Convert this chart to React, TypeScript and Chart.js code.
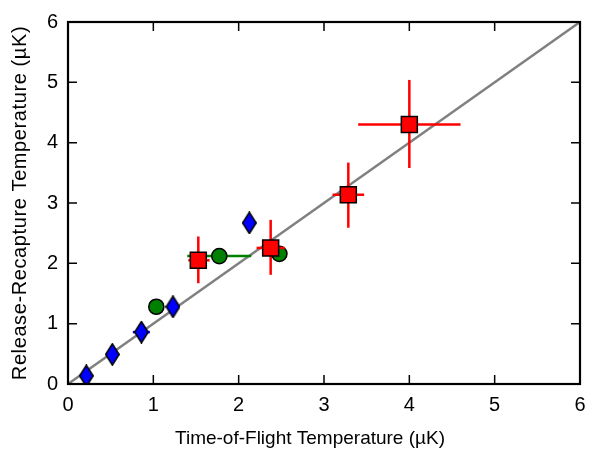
import React, { useEffect, useRef } from "react";
import { Chart, registerables } from "chart.js";

Chart.register(...registerables);

// Blue diamonds
const blueX = [0.215, 0.52, 0.86, 1.23, 2.125];
const blueY = [0.135, 0.49, 0.86, 1.28, 2.67];
const blueXErr = [0.05, 0.05, 0.1, 0.05, 0.08];

// Green circles
const greenX = [1.035, 1.773, 2.477];
const greenY = [1.28, 2.12, 2.157];
const greenXErr = [0.0, 0.375, 0.09];

// Red squares
const redX = [1.527, 2.375, 3.285, 4.0];
const redY = [2.05, 2.255, 3.135, 4.3];
const redXLow = [1.41, 2.21, 3.1, 3.4];
const redXHigh = [1.66, 2.54, 3.47, 4.6];
const redYLow = [1.67, 1.81, 2.59, 3.58];
const redYHigh = [2.445, 2.72, 3.67, 5.04];

// Reference line y = x
const lineX = [0, 6];
const lineY = [0, 6];

const tickValues = [0, 1, 2, 3, 4, 5, 6];

const xTitle = "Time-of-Flight Temperature (µK)";
const yTitle = "Release-Recapture Temperature (µK)";

const FONT = "'Liberation Sans', Arial, Helvetica, sans-serif";

function makeDiamond(): HTMLCanvasElement {
  const c = document.createElement("canvas");
  c.width = 15;
  c.height = 23;
  const ctx = c.getContext("2d")!;
  ctx.beginPath();
  ctx.moveTo(7.5, 0.8);
  ctx.lineTo(14.2, 11.5);
  ctx.lineTo(7.5, 22.2);
  ctx.lineTo(0.8, 11.5);
  ctx.closePath();
  ctx.fillStyle = "#0000ff";
  ctx.fill();
  ctx.lineWidth = 1.5;
  ctx.strokeStyle = "#000000";
  ctx.stroke();
  return c;
}

type ErrSpec = {
  color: string;
  x: number[];
  y: number[];
  xl?: number[];
  xh?: number[];
  yl?: number[];
  yh?: number[];
};

const errorSpecs: Record<string, ErrSpec> = {
  blue: {
    color: "#0000ff",
    x: blueX,
    y: blueY,
    xl: blueX.map((v, i) => v - blueXErr[i]),
    xh: blueX.map((v, i) => v + blueXErr[i]),
  },
  green: {
    color: "#008000",
    x: greenX,
    y: greenY,
    xl: greenX.map((v, i) => v - greenXErr[i]),
    xh: greenX.map((v, i) => v + greenXErr[i]),
  },
  red: {
    color: "#ff0000",
    x: redX,
    y: redY,
    xl: redXLow,
    xh: redXHigh,
    yl: redYLow,
    yh: redYHigh,
  },
};

const errorBarPlugin = {
  id: "errorBars",
  beforeDatasetDraw(chart: any, args: any) {
    const ds = chart.data.datasets[args.index];
    const spec = errorSpecs[ds.label];
    if (!spec) return;
    const xs = chart.scales.x;
    const ys = chart.scales.y;
    const ctx = chart.ctx;
    ctx.save();
    ctx.strokeStyle = spec.color;
    ctx.lineWidth = 2.5;
    spec.x.forEach((xv, i) => {
      const px = xs.getPixelForValue(xv);
      const py = ys.getPixelForValue(spec.y[i]);
      if (spec.xl && spec.xh) {
        ctx.beginPath();
        ctx.moveTo(xs.getPixelForValue(spec.xl[i]), py);
        ctx.lineTo(xs.getPixelForValue(spec.xh[i]), py);
        ctx.stroke();
      }
      if (spec.yl && spec.yh) {
        ctx.beginPath();
        ctx.moveTo(px, ys.getPixelForValue(spec.yl[i]));
        ctx.lineTo(px, ys.getPixelForValue(spec.yh[i]));
        ctx.stroke();
      }
    });
    ctx.restore();
  },
};

const framePlugin = {
  id: "frame",
  afterDraw(chart: any) {
    const { ctx, chartArea } = chart;
    const { left, right, top, bottom } = chartArea;
    const xs = chart.scales.x;
    const ys = chart.scales.y;
    const tl = 9;
    ctx.save();
    ctx.strokeStyle = "#000";
    ctx.lineWidth = 1.5;
    tickValues.forEach((v) => {
      const px = xs.getPixelForValue(v);
      ctx.beginPath();
      ctx.moveTo(px, bottom);
      ctx.lineTo(px, bottom - tl);
      ctx.moveTo(px, top);
      ctx.lineTo(px, top + tl);
      ctx.stroke();
      const py = ys.getPixelForValue(v);
      ctx.beginPath();
      ctx.moveTo(left, py);
      ctx.lineTo(left + tl, py);
      ctx.moveTo(right, py);
      ctx.lineTo(right - tl, py);
      ctx.stroke();
    });
    ctx.lineWidth = 2.2;
    ctx.strokeRect(left, top, right - left, bottom - top);

    // Axis titles
    ctx.fillStyle = "#000";
    ctx.textAlign = "center";
    ctx.textBaseline = "alphabetic";
    ctx.font = `19px ${FONT}`;
    ctx.fillText(xTitle, 310, 444);

    ctx.save();
    ctx.translate(26, (top + bottom) / 2);
    ctx.rotate(-Math.PI / 2);
    ctx.font = `20px ${FONT}`;
    try {
      (ctx as any).letterSpacing = "0.6px";
    } catch (e) {}
    ctx.fillText(yTitle, 0, 0);
    ctx.restore();

    ctx.restore();
  },
};

export default function App() {
  const ref = useRef<HTMLCanvasElement>(null);

  useEffect(() => {
    if (!ref.current) return;
    const diamond = makeDiamond();
    const chart = new Chart(ref.current, {
      type: "scatter",
      data: {
        datasets: [
          {
            label: "red",
            data: redX.map((x, i) => ({ x, y: redY[i] })),
            pointStyle: "rect",
            pointRadius: 11.3,
            pointHoverRadius: 11.3,
            backgroundColor: "#ff0000",
            borderColor: "#000000",
            borderWidth: 1.5,
            order: 1,
          },
          {
            label: "green",
            data: greenX.map((x, i) => ({ x, y: greenY[i] })),
            pointStyle: "circle",
            pointRadius: 7.6,
            pointHoverRadius: 7.6,
            backgroundColor: "#008000",
            borderColor: "#000000",
            borderWidth: 1.5,
            order: 2,
          },
          {
            label: "blue",
            data: blueX.map((x, i) => ({ x, y: blueY[i] })),
            pointStyle: diamond as any,
            pointRadius: 10,
            backgroundColor: "#0000ff",
            order: 3,
          },
          {
            label: "line",
            data: lineX.map((x, i) => ({ x, y: lineY[i] })),
            showLine: true,
            pointRadius: 0,
            borderColor: "#808080",
            borderWidth: 2.5,
            order: 4,
          } as any,
        ],
      },
      plugins: [errorBarPlugin, framePlugin],
      options: {
        animation: false,
        responsive: false,
        maintainAspectRatio: false,
        layout: { padding: { top: 16, right: 15, left: 0, bottom: 0 } },
        plugins: {
          legend: { display: false },
          tooltip: { enabled: false },
        },
        scales: {
          x: {
            type: "linear",
            min: 0,
            max: 6,
            afterFit: (s: any) => {
              s.height = 65;
            },
            grid: { display: false, drawTicks: false },
            border: { display: false },
            ticks: {
              stepSize: 1,
              padding: 9,
              color: "#000",
              font: { family: FONT, size: 20 },
            },
          },
          y: {
            type: "linear",
            min: 0,
            max: 6,
            afterFit: (s: any) => {
              s.width = 68;
            },
            grid: { display: false, drawTicks: false },
            border: { display: false },
            ticks: {
              stepSize: 1,
              padding: 10,
              color: "#000",
              font: { family: FONT, size: 20 },
            },
          },
        },
      },
    });
    return () => chart.destroy();
  }, []);

  return (
    <div style={{ position: "fixed", left: 0, top: 0, width: 595, height: 449, background: "#fff" }}>
      <canvas ref={ref} width={595} height={449} style={{ width: 595, height: 449 }} />
    </div>
  );
}
